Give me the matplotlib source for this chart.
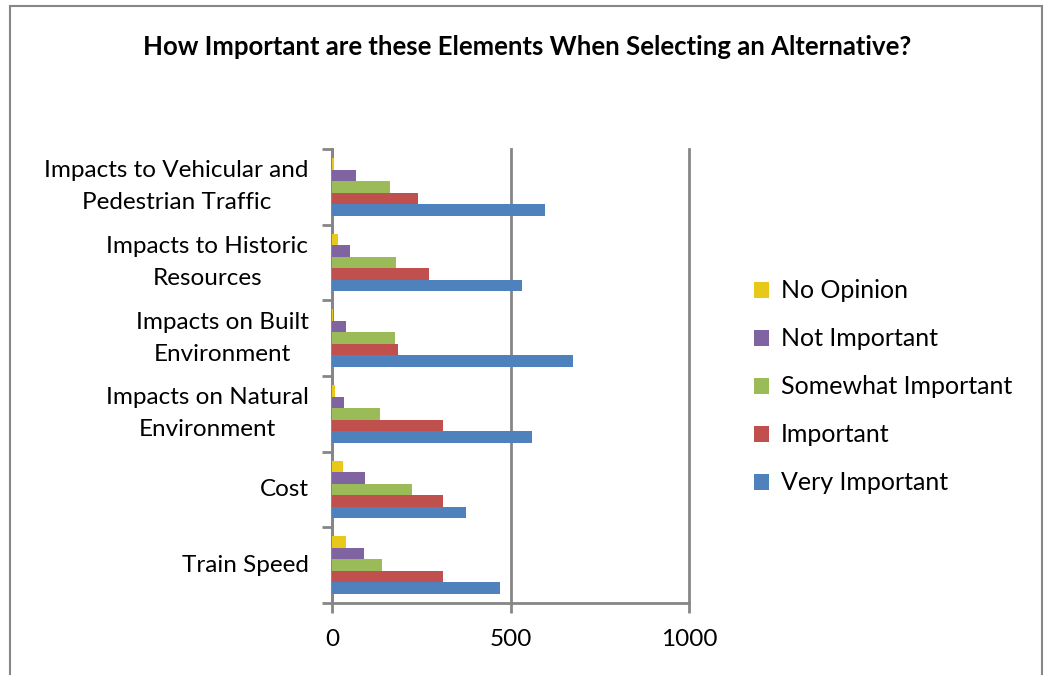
import numpy as np
import matplotlib.pyplot as plt
from matplotlib.patches import Rectangle

plt.rcParams['font.family'] = ['Lato', 'DejaVu Sans']

categories = ['Train Speed', 'Cost', 'Impacts on Natural\nEnvironment',
              'Impacts on Built\nEnvironment', 'Impacts to Historic\nResources',
              'Impacts to Vehicular and\nPedestrian Traffic']
series = ['Very Important', 'Important', 'Somewhat Important', 'Not Important', 'No Opinion']
very_important = [471, 374, 561, 675, 532, 597]
important = [311, 310, 311, 186, 271, 240]
somewhat_important = [141, 225, 135, 177, 180, 163]
not_important = [91, 93, 34, 38, 51, 66]
no_opinion = [38, 32, 9, 4, 16, 7]
colors = ['#4F81BD', '#C0504D', '#9BBB59', '#8064A2', '#E8C81A']
values = [very_important, important, somewhat_important, not_important, no_opinion]

fig = plt.figure(figsize=(10.44, 6.75), dpi=100)
fig.patches.append(Rectangle((10 / 1044, -0.1), 1032 / 1044, 1.1 - 6 / 675,
                             transform=fig.transFigure, fill=False,
                             edgecolor='#868686', linewidth=1.5))

ax = fig.add_axes([332 / 1044, 72 / 675, 357 / 1044, 454 / 675])
y = np.arange(len(categories))
h = 0.152
bars = []
for i, (name, vals, c) in enumerate(zip(series, values, colors)):
    b = ax.barh(y + (i - 2) * h, vals, height=h, color=c, label=name,
                linewidth=0, zorder=3)
    bars.append(b)

ax.set_xlim(0, 1000)
ax.set_ylim(-0.5, len(categories) - 0.5)
ax.set_xticks([0, 500, 1000])
ax.set_yticks(y)
ax.set_yticklabels(categories, linespacing=1.65, multialignment='center', va='center')
ax.set_yticks(np.arange(-0.5, len(categories)), minor=True)
ax.tick_params(axis='y', which='major', length=0, pad=17, labelsize=17.5)
ax.tick_params(axis='y', which='minor', length=7, width=2, color='#868686')
ax.tick_params(axis='x', length=7, width=2, color='#868686', labelsize=17.5, pad=12)
for s in ['top', 'right']:
    ax.spines[s].set_visible(False)
for s in ['left', 'bottom']:
    ax.spines[s].set_color('#868686')
    ax.spines[s].set_linewidth(2)
ax.xaxis.grid(True, color='#868686', linewidth=2)
for gl in ax.get_xgridlines():
    gl.set_clip_on(False)
ax.set_axisbelow(True)

fig.text(527 / 1044, 1 - 47 / 675,
         'How Important are these Elements When Selecting an Alternative?',
         ha='center', va='center', fontsize=18.5, fontweight='bold')

handles = bars[::-1]
fig.legend(handles, series[::-1], loc='center left',
           bbox_to_anchor=(731 / 1044, 1 - 387 / 675), frameon=False,
           fontsize=18, handlelength=0.6, handleheight=0.6, handletextpad=0.5,
           labelspacing=1.0)

fig.savefig('out.png', dpi=100)
